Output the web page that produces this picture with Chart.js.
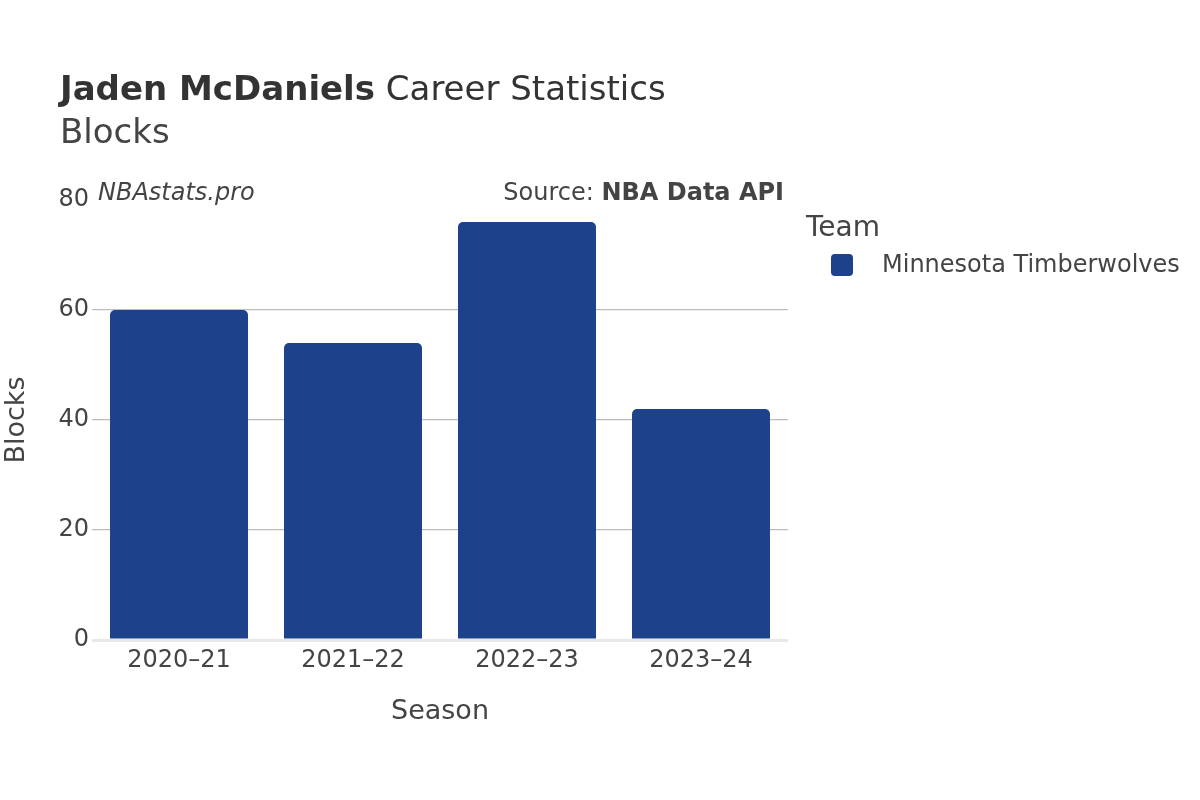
<!DOCTYPE html>
<html>
<head>
<meta charset="utf-8">
<script src="https://cdn.jsdelivr.net/npm/chart.js@4/dist/chart.umd.min.js"></script>
<style>
  html, body { margin: 0; padding: 0; background: #fff; }
  #wrap { width: 1200px; height: 800px; }
</style>
</head>
<body>
<div id="wrap"><canvas id="chart" width="1200" height="800"></canvas></div>
<script>
// chart values
const seasons = ["2020–21", "2021–22", "2022–23", "2023–24"];
const blocks = [60, 54, 76, 42];
const teamName = "Minnesota Timberwolves";
const teamColor = "#1d428a";
const yMax = 80;
const yStep = 20;

const FONT = "'DejaVu Sans', sans-serif";

// titles, watermark, legend and axis titles are drawn by hand
const decorations = {
    id: "decorations",
    afterDraw(chart) {
        const c = chart.ctx;
        const area = chart.chartArea;
        c.save();
        c.textBaseline = "alphabetic";

        // title
        c.fillStyle = "#333";
        c.textAlign = "left";
        c.font = "bold 34px " + FONT;
        const bold = "Jaden McDaniels";
        c.fillText(bold, 60, 100);
        const w = c.measureText(bold).width;
        c.font = "34px " + FONT;
        c.fillText(" Career Statistics", 60 + w, 100);
        c.fillStyle = "#444";
        c.font = "34px " + FONT;
        c.fillText("Blocks", 60, 143);

        // watermark + source
        c.fillStyle = "#444";
        c.font = "italic 24px " + FONT;
        c.fillText("NBAstats.pro", 98, 200);
        c.textAlign = "right";
        c.font = "bold 24px " + FONT;
        const src = "NBA Data API";
        c.fillText(src, 784, 200);
        const sw = c.measureText(src).width;
        c.font = "24px " + FONT;
        c.fillText("Source: ", 784 - sw, 200);

        // legend
        c.textAlign = "left";
        c.fillStyle = "#444";
        c.font = "28px " + FONT;
        c.fillText("Team", 806, 236);
        c.fillStyle = teamColor;
        c.beginPath();
        c.roundRect(831, 254, 22, 22, 4);
        c.fill();
        c.fillStyle = "#444";
        c.font = "24px " + FONT;
        c.textBaseline = "middle";
        c.fillText(teamName, 882, 266);

        // axis titles
        c.textAlign = "center";
        c.font = "27px " + FONT;
        c.fillText("Season", (area.left + area.right) / 2, 712);
        c.translate(17, (area.top + area.bottom) / 2);
        c.rotate(-Math.PI / 2);
        c.fillText("Blocks", 0, 0);
        c.restore();
    }
};

const ctx = document.getElementById("chart").getContext("2d");
new Chart(ctx, {
    type: "bar",
    data: {
        labels: seasons,
        datasets: [{
            label: teamName,
            data: blocks,
            backgroundColor: teamColor,
            borderRadius: 5,
            borderSkipped: "start",
            barPercentage: 1,
            categoryPercentage: 0.793
        }]
    },
    options: {
        responsive: false,
        animation: false,
        layout: { padding: { left: 0, top: 200, right: 412, bottom: 0 } },
        plugins: {
            legend: { display: false },
            title: { display: false },
            tooltip: { enabled: false }
        },
        scales: {
            x: {
                grid: { display: false, drawTicks: false },
                border: { display: false },
                ticks: { color: "#444", font: { family: FONT, size: 24 }, padding: 6, maxRotation: 0 },
                afterFit(scale) { scale.height = 160; }
            },
            y: {
                min: 0,
                max: yMax,
                border: { display: false },
                grid: {
                    drawTicks: false,
                    color(ctx) {
                        const v = ctx.tick && ctx.tick.value;
                        if (v === 0) return "#e8e8e8";
                        if (v === yMax) return "rgba(0,0,0,0)";
                        return "#bdbdbd";
                    },
                    lineWidth(ctx) {
                        return ctx.tick && ctx.tick.value === 0 ? 3 : 1.2;
                    }
                },
                ticks: { stepSize: yStep, color: "#444", font: { family: FONT, size: 24 }, padding: 3 },
                afterFit(scale) { scale.width = 92; }
            }
        }
    },
    plugins: [decorations]
});
</script>
</body>
</html>
